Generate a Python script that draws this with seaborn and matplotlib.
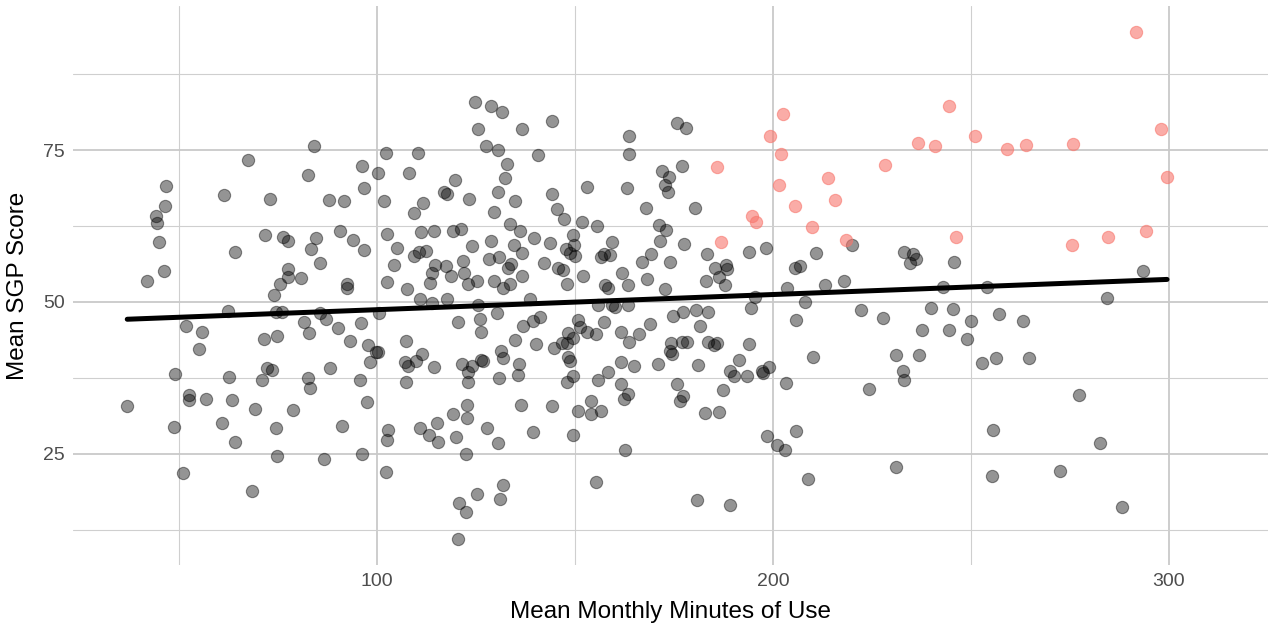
import numpy as np
import pandas as pd
import matplotlib
matplotlib.use("Agg")
import matplotlib.pyplot as plt
from matplotlib.ticker import FixedLocator
import seaborn as sns

# ---- data: mean monthly minutes of use vs mean SGP score ----
# regular schools (grey)
other_minutes = [
    84.1, 67.4, 82.6, 46.7, 61.4, 73.0, 87.9, 91.7, 46.5, 44.2, 44.5, 90.7, 71.7, 76.3, 77.5, 84.6, 45.0,
    83.3, 64.2, 85.6, 77.5, 77.5, 80.8, 75.5, 92.4, 92.4, 46.2, 41.9, 74.0, 62.4, 74.5, 76.0, 85.6, 87.1,
    81.6, 51.8, 55.8, 82.8, 90.2, 71.5, 74.8, 93.2, 55.1, 49.0, 62.6, 72.2, 73.5, 71.0, 82.6, 88.1, 83.1,
    36.9, 52.5, 52.5, 56.8, 63.4, 69.2, 78.8, 48.7, 60.9, 74.5, 91.2, 64.2, 74.8, 86.6, 51.0, 68.4,
    124.8, 128.8, 131.6, 144.2, 125.5, 136.6, 127.5, 130.6, 140.7, 102.3, 110.4, 96.2, 132.8, 100.3, 108.1,
    132.3, 119.7, 96.7, 153.0, 116.9, 117.7, 130.6, 144.2, 101.8, 123.2, 134.9, 111.6, 109.3, 129.5, 145.5,
    147.2, 151.8, 133.6, 136.1, 102.5, 111.1, 114.4, 119.2, 121.2, 149.5, 93.9, 128.8, 139.6, 143.7, 96.7,
    105.1, 124.0, 134.6, 149.7, 147.7, 110.6, 112.4, 109.3, 136.6, 148.7, 150.0, 128.3, 130.8, 121.7, 104.3,
    114.6, 117.4, 133.8, 142.2, 133.1, 145.7, 147.0, 113.9, 118.7, 122.0, 136.6, 152.0, 102.5, 113.4, 123.0,
    125.3, 129.5, 133.6, 131.8, 148.0, 107.6, 110.9, 117.7, 138.6, 113.9, 125.5, 100.5, 96.0, 120.5, 126.0,
    130.3, 141.2, 139.4, 136.9, 150.8,
    126.3, 151.3, 153.0, 97.7, 99.7, 100.3, 98.2, 107.3, 107.1, 107.8, 109.9, 111.4, 114.4, 121.5, 123.0,
    124.0, 126.3, 126.8, 131.3, 131.8, 134.9, 135.9, 135.6, 140.2, 144.7, 146.7, 148.2, 148.0, 149.5, 148.2,
    148.7, 149.5, 148.0, 95.7, 107.3, 123.0, 130.8, 97.5, 136.4, 144.2, 150.8, 154.0, 154.0, 122.7, 119.2,
    122.7, 115.2, 110.9, 113.1, 115.4, 120.0, 127.8, 130.6, 139.4, 149.5, 102.8, 102.5, 96.2, 122.5, 102.3,
    131.8, 125.3, 131.1, 120.7, 122.5, 120.5,
    175.8, 178.0, 163.6, 163.6, 177.0, 172.0, 173.7, 172.7, 173.5, 163.1, 167.9, 180.3, 155.6, 171.2, 173.0,
    159.3, 171.5, 177.5, 198.2, 193.9, 210.9, 183.3, 156.6, 157.3, 158.8, 169.2, 166.9, 174.0, 185.3, 188.1,
    188.4, 186.4, 205.5, 206.8, 161.9, 168.2, 163.4, 157.6, 158.3, 172.7, 183.1, 187.9, 203.5, 213.1, 195.4,
    208.1, 155.8, 159.3, 160.1, 163.4, 194.4, 174.7, 177.3, 180.5, 183.6, 205.8, 157.3, 168.9, 181.6, 155.3,
    161.6, 166.2, 163.6, 174.2, 177.0, 178.3, 183.6, 185.1, 185.9, 193.9, 174.0, 174.5, 161.6, 164.9, 171.0,
    181.1, 158.3, 155.8, 189.1, 191.4, 190.2, 193.4, 197.2, 197.5, 199.0, 210.1, 203.3, 161.6, 163.4, 162.4,
    175.8, 177.3, 176.5, 187.4, 156.6, 182.8, 186.4, 205.8, 198.5, 201.0, 203.0, 162.6, 155.3, 208.8, 180.8,
    189.1,
    219.9, 233.1, 235.3, 236.1, 234.6, 245.7, 217.9, 242.9, 254.0, 222.2, 227.8, 239.9, 245.4, 250.0, 257.1,
    263.1, 237.6, 244.4, 249.0, 231.1, 236.9, 232.8, 233.1, 224.2, 252.8, 256.3, 264.6, 255.5, 231.1, 255.3,
    293.4, 284.3, 277.3, 282.6, 272.5, 288.1,
]
other_sgp = [
    75.7, 73.4, 70.9, 69.1, 67.6, 66.9, 66.8, 66.6, 65.8, 64.1, 63.0, 61.7, 61.0, 60.7, 60.0, 60.5, 59.9,
    58.7, 58.2, 56.4, 55.4, 54.1, 53.9, 53.0, 53.0, 52.3, 55.1, 53.5, 51.2, 48.5, 48.4, 48.4, 48.2, 47.2,
    46.7, 46.1, 45.1, 44.9, 45.7, 43.9, 44.4, 43.6, 42.3, 38.2, 37.7, 39.1, 38.8, 37.2, 37.5, 39.1, 35.9,
    32.9, 34.7, 33.9, 34.0, 33.9, 32.4, 32.2, 29.4, 30.1, 29.3, 29.6, 27.0, 24.7, 24.2, 21.9, 18.8,
    82.9, 82.2, 81.3, 79.8, 78.4, 78.4, 75.6, 75.0, 74.2, 74.5, 74.5, 72.4, 72.7, 71.2, 71.2,
    70.4, 70.1, 68.8, 68.9, 68.1, 67.8, 68.1, 67.8, 66.6, 66.9, 66.6, 66.3, 64.6, 64.8, 65.3,
    63.6, 63.2, 62.8, 61.7, 61.2, 61.5, 61.7, 61.7, 62.0, 61.0, 60.2, 60.0, 60.5, 59.7, 58.5,
    58.9, 59.2, 59.4, 59.4, 58.7, 58.2, 58.4, 57.6, 58.1, 58.1, 57.6, 57.1, 57.4, 56.7, 56.1,
    56.1, 55.9, 56.2, 56.4, 55.6, 55.6, 55.3, 54.8, 54.3, 54.8, 54.3, 54.3, 53.3, 53.1, 53.0,
    53.4, 53.4, 53.0, 52.3, 53.0, 52.1, 50.5, 50.5, 50.5, 49.8, 49.5, 48.2, 46.5, 46.7, 47.2,
    48.2, 47.5, 46.9, 46.1, 47.0,
    45.1, 45.9, 45.1, 42.9, 41.8, 41.8, 40.1, 43.6, 40.1, 39.5, 40.3, 41.4, 39.3, 39.8, 38.5,
    39.5, 40.5, 40.3, 41.9, 40.8, 43.7, 39.8, 38.0, 43.1, 42.4, 43.3, 44.9, 43.3, 44.1, 40.9,
    40.3, 37.8, 36.8, 37.2, 36.8, 36.8, 37.5, 33.6, 33.1, 32.9, 32.1, 33.7, 31.6, 33.1, 31.6,
    30.9, 30.1, 29.3, 28.1, 27.0, 27.8, 29.3, 26.8, 28.6, 28.1, 28.9, 27.3, 25.0, 25.0, 22.0,
    19.9, 18.4, 17.6, 16.9, 15.5, 11.0,
    79.4, 78.6, 77.3, 74.3, 72.4, 71.5, 70.6, 69.2, 68.1, 68.7, 65.5, 65.5, 62.5, 62.7, 61.8,
    59.9, 60.0, 59.5, 58.9, 58.2, 58.1, 57.9, 57.4, 57.9, 57.7, 57.9, 56.6, 56.6, 55.6, 56.1,
    55.4, 54.1, 55.6, 55.9, 54.8, 53.8, 52.8, 52.8, 52.3, 52.1, 53.5, 52.8, 52.3, 52.8, 50.8,
    50.0, 49.5, 49.5, 49.2, 49.5, 49.0, 47.7, 48.4, 48.7, 48.4, 47.0, 46.7, 46.4, 46.1, 44.7,
    45.1, 44.7, 43.4, 43.3, 43.4, 43.4, 43.4, 42.9, 43.3, 43.1, 41.9, 41.4, 40.1, 39.5, 39.8,
    39.6, 38.5, 37.2, 38.6, 40.5, 37.8, 37.8, 38.6, 38.3, 39.3, 40.9, 36.7, 36.5, 34.9, 34.0,
    36.5, 34.5, 33.7, 35.5, 32.1, 31.7, 31.9, 28.8, 27.9, 26.5, 25.7, 25.7, 20.4, 20.9, 17.4,
    16.6,
    59.4, 58.2, 57.9, 57.1, 56.4, 56.6, 53.5, 52.5, 52.5, 48.7, 47.4, 49.0, 48.8, 46.9, 48.0,
    46.9, 45.4, 45.4, 43.9, 41.3, 41.3, 38.6, 37.2, 35.7, 40.0, 40.8, 40.8, 28.9, 22.9, 21.4,
    55.1, 50.6, 34.7, 26.8, 22.2, 16.3,
]

# high-use, high-growth schools (highlighted)
high_minutes = [202.5, 199.2, 202.0, 185.9, 201.5, 213.9, 205.5, 194.7, 195.7, 209.8, 186.9,
                244.4, 251.0, 236.6, 240.9, 259.1, 263.9, 228.3, 215.6, 218.4, 246.2,
                291.7, 298.0, 275.7, 299.5, 275.5, 284.6, 294.2]
high_sgp = [80.9, 77.3, 74.3, 72.2, 69.2, 70.4, 65.8, 64.1, 63.2, 62.3, 59.9,
            82.2, 77.3, 76.2, 75.7, 75.2, 75.8, 72.5, 66.8, 60.2, 60.7,
            94.4, 78.5, 76.0, 70.6, 59.4, 60.7, 61.7]

x_ticks = [100, 200, 300]
y_ticks = [25, 50, 75]
x_minor = [50, 150, 250]
y_minor = [12.5, 37.5, 62.5, 87.5]

df_other = pd.DataFrame({"minutes": other_minutes, "sgp": other_sgp})
df_high = pd.DataFrame({"minutes": high_minutes, "sgp": high_sgp})
df_all = pd.concat([df_other, df_high], ignore_index=True)

sns.set_theme(style="white")
plt.rcParams["font.family"] = ["Liberation Sans", "DejaVu Sans"]

fig = plt.figure(figsize=(12.71, 6.26), dpi=100)
ax = fig.add_axes([73 / 1271, 1 - 565 / 626, (1268 - 73) / 1271, (565 - 6) / 626])

# grid
ax.xaxis.set_major_locator(FixedLocator(x_ticks))
ax.yaxis.set_major_locator(FixedLocator(y_ticks))
ax.xaxis.set_minor_locator(FixedLocator(x_minor))
ax.yaxis.set_minor_locator(FixedLocator(y_minor))
ax.grid(which="major", color="#c9c9c9", linewidth=1.3)
ax.grid(which="minor", color="#cfcfcf", linewidth=0.8)
ax.set_axisbelow(True)

sns.scatterplot(data=df_other, x="minutes", y="sgp", color="black", alpha=0.42,
                s=78, edgecolor="black", linewidth=0.8, ax=ax, zorder=3)
sns.scatterplot(data=df_high, x="minutes", y="sgp", color="#F8766D", alpha=0.6,
                s=78, edgecolor="#F8766D", linewidth=0.8, ax=ax, zorder=3)
sns.regplot(data=df_all, x="minutes", y="sgp", scatter=False, ci=None, color="black",
            line_kws={"linewidth": 3.6, "zorder": 4}, ax=ax)

ax.set_xlim(23.2, 325)
ax.set_ylim(6.7, 98.7)

for s in ax.spines.values():
    s.set_visible(False)
ax.tick_params(axis="both", which="both", length=0, labelsize=14, labelcolor="#4d4d4d")
ax.tick_params(axis="x", pad=6)
ax.tick_params(axis="y", pad=6)
ax.set_xlabel("Mean Monthly Minutes of Use", fontsize=17.5, color="black", labelpad=8)
ax.set_ylabel("Mean SGP Score", fontsize=17.5, color="black", labelpad=10)

fig.savefig("out.png", dpi=100)
